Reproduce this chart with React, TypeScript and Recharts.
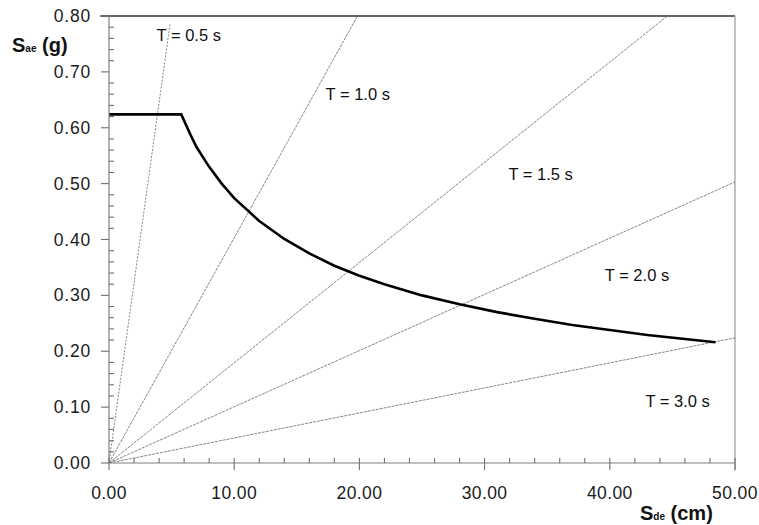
import React from 'react'
import { LineChart, Line, XAxis, YAxis, ReferenceLine, ReferenceDot } from 'recharts'

// Sa-Sd spectrum
const demandCurve = [
  { x: 0, y: 0.624 },
  { x: 5.77, y: 0.624 },
  { x: 6.5, y: 0.588 },
  { x: 7, y: 0.565 },
  { x: 8, y: 0.53 },
  { x: 9, y: 0.5 },
  { x: 10, y: 0.474 },
  { x: 12, y: 0.433 },
  { x: 14, y: 0.401 },
  { x: 16, y: 0.375 },
  { x: 18, y: 0.353 },
  { x: 20, y: 0.335 },
  { x: 22, y: 0.32 },
  { x: 25, y: 0.3 },
  { x: 28, y: 0.284 },
  { x: 31, y: 0.27 },
  { x: 34, y: 0.258 },
  { x: 37, y: 0.247 },
  { x: 40, y: 0.238 },
  { x: 43, y: 0.229 },
  { x: 46, y: 0.222 },
  { x: 48.45, y: 0.216 },
]

// constant period rays from the origin
const periodT05 = [{ x: 0, y: 0 }, { x: 4.87, y: 0.785 }]
const periodT10 = [{ x: 0, y: 0 }, { x: 19.85, y: 0.8 }]
const periodT15 = [{ x: 0, y: 0 }, { x: 44.6, y: 0.8 }]
const periodT20 = [{ x: 0, y: 0 }, { x: 50, y: 0.503 }]
const periodT30 = [{ x: 0, y: 0 }, { x: 50, y: 0.224 }]

const periodLabels = ['T = 0.5 s', 'T = 1.0 s', 'T = 1.5 s', 'T = 2.0 s', 'T = 3.0 s']
const labelAt = [
  { x: 3.8, y: 0.755 },
  { x: 17.3, y: 0.649 },
  { x: 31.9, y: 0.506 },
  { x: 39.6, y: 0.325 },
  { x: 42.85, y: 0.1 },
]

const xTicks = [0, 2, 4, 6, 8, 10, 12, 14, 16, 18, 20, 22, 24, 26, 28, 30, 32, 34, 36, 38, 40, 42, 44, 46, 48, 50]
const yTicks = [
  0, 0.02, 0.04, 0.06, 0.08, 0.1, 0.12, 0.14, 0.16, 0.18, 0.2, 0.22, 0.24, 0.26, 0.28, 0.3, 0.32, 0.34, 0.36, 0.38,
  0.4, 0.42, 0.44, 0.46, 0.48, 0.5, 0.52, 0.54, 0.56, 0.58, 0.6, 0.62, 0.64, 0.66, 0.68, 0.7, 0.72, 0.74, 0.76, 0.78, 0.8,
]

const FONT = '"Liberation Sans", Arial, sans-serif'
const AXIS = '#808080'
const TICK = '#707070'

const XTick = (props: any) => {
  const { x, y, payload } = props
  const v = payload.value
  if (v % 10 !== 0) {
    return (
      <g>
        <path d={`M${x},${y - 5}V${y}`} stroke={TICK} strokeWidth={1.1} />
      </g>
    )
  }
  return (
    <g>
      <path d={`M${x},${y - 5}V${y + 7}`} stroke={TICK} strokeWidth={1.1} />
      <text x={x} y={y + 36} textAnchor="middle" fontSize={17.5} letterSpacing={0.4} fontFamily={FONT} fill="#1a1a1a">
        {v.toFixed(2)}
      </text>
    </g>
  )
}

const YTick = (props: any) => {
  const { x, y, payload } = props
  const v = payload.value
  if (Math.round(v * 100) % 10 !== 0) {
    return (
      <g>
        <path d={`M${x},${y}H${x + 5}`} stroke={TICK} strokeWidth={1.1} />
      </g>
    )
  }
  return (
    <g>
      <path d={`M${x - 8},${y}H${x}`} stroke={TICK} strokeWidth={1.1} />
      <text x={x - 18} y={y + 6} textAnchor="end" fontSize={17.5} letterSpacing={0.8} fontFamily={FONT} fill="#1a1a1a">
        {v.toFixed(2)}
      </text>
    </g>
  )
}

const rays = [
  { data: periodT05, dash: '2 1.5' },
  { data: periodT10, dash: '3 1' },
  { data: periodT15, dash: '3 1' },
  { data: periodT20, dash: '3 1' },
  { data: periodT30, dash: '3 1' },
]

export default function App() {
  return (
    <div style={{ position: 'absolute', left: 0, top: 0, width: 759, height: 525, background: '#fff' }}>
      <LineChart width={759} height={525} margin={{ top: 16, right: 24, bottom: 32, left: 0 }}>
        <XAxis
          type="number"
          dataKey="x"
          domain={[0, 50]}
          ticks={xTicks}
          interval={0}
          tickSize={0}
          tickMargin={0}
          height={30}
          tick={<XTick />}
          tickLine={false}
          axisLine={{ stroke: AXIS, strokeWidth: 1.2 }}
          allowDataOverflow
        />
        <YAxis
          type="number"
          dataKey="y"
          domain={[0, 0.8]}
          ticks={yTicks}
          interval={0}
          tickSize={0}
          tickMargin={0}
          width={109}
          tick={<YTick />}
          tickLine={false}
          axisLine={{ stroke: AXIS, strokeWidth: 1.2 }}
          allowDataOverflow
        />
        <ReferenceLine
          segment={[{ x: -0.7, y: 0.8 }, { x: 50, y: 0.8 }]}
          stroke="#333"
          strokeWidth={1.6}
          ifOverflow="visible"
        />
        <ReferenceLine
          segment={[{ x: 50, y: 0.8 }, { x: 50, y: -0.013 }]}
          stroke="#999"
          strokeWidth={1.2}
          ifOverflow="visible"
        />
        {rays.map((r, i) => (
          <Line
            key={i}
            data={r.data}
            dataKey="y"
            stroke="#666"
            strokeWidth={0.8}
            strokeDasharray={r.dash}
            dot={false}
            isAnimationActive={false}
          />
        ))}
        <Line
          data={demandCurve}
          dataKey="y"
          stroke="#000"
          strokeWidth={2.6}
          dot={false}
          type="linear"
          isAnimationActive={false}
        />
        {periodLabels.map((t, i) => (
          <ReferenceDot
            key={t}
            x={labelAt[i].x}
            y={labelAt[i].y}
            r={0}
            shape={(p: any) => (
              <text x={p.cx} y={p.cy} fontSize={16.5} fontFamily={FONT} fill="#111">
                {t}
              </text>
            )}
          />
        ))}
      </LineChart>
      <div style={{ position: 'absolute', left: 12, top: 35, font: `bold 20px ${FONT}`, lineHeight: '20px', color: '#111', whiteSpace: 'nowrap' }}>
        S<span style={{ fontSize: 10, lineHeight: '10px' }}>ae</span> (g)
      </div>
      <div style={{ position: 'absolute', left: 640, top: 503, font: `bold 20px ${FONT}`, lineHeight: '20px', color: '#111', whiteSpace: 'nowrap' }}>
        S<span style={{ fontSize: 10, lineHeight: '10px' }}>de</span> (cm)
      </div>
    </div>
  )
}
